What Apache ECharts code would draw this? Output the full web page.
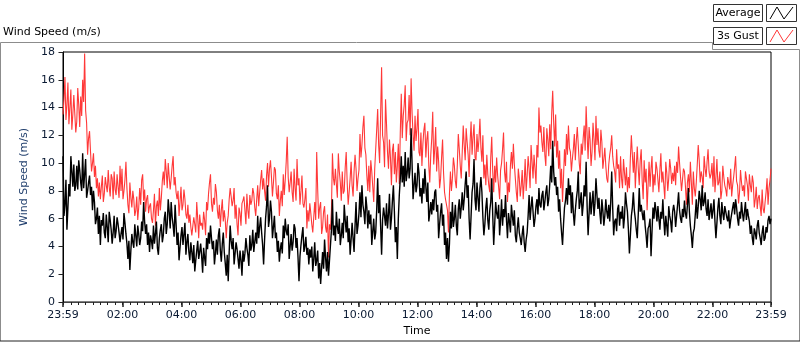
<!DOCTYPE html>
<html>
<head>
<meta charset="utf-8">
<script src="https://cdn.jsdelivr.net/npm/echarts@6/dist/echarts.min.js"></script>
<style>
  html, body { margin: 0; padding: 0; background: #fff; }
  #chart { width: 800px; height: 342px; }
</style>
</head>
<body>
<div id="chart"></div>
<script>
// samples every 2 minutes, from 23:59 (minute -1) to 23:59 (minute 1439)
var startMin = -1;
var stepMin = 2;

// average wind speed (m/s)
var avgSpeed = [
  10.5, 6.2, 7.0, 8.8, 5.2, 6.8, 8.5, 7.6, 10.5, 9.4, 8.3, 9.9, 8.0, 8.4, 9.8, 8.1, 10.2, 9.5, 8.6, 8.0,
  10.7, 8.2, 9.2, 10.3, 7.5, 8.0, 8.6, 9.1, 7.7, 8.3, 6.6, 8.0, 7.2, 5.6, 6.0, 6.8, 4.9, 6.2, 4.1, 5.9,
  5.5, 6.4, 5.0, 4.6, 6.3, 5.4, 4.3, 6.5, 5.9, 5.2, 4.2, 5.0, 6.2, 4.6, 5.1, 6.1, 5.6, 5.0, 4.3, 4.9,
  5.4, 4.5, 6.4, 5.7, 4.9, 4.2, 3.1, 4.4, 2.3, 3.7, 4.9, 4.3, 3.9, 5.6, 4.8, 4.0, 5.5, 4.9, 4.1, 4.6,
  5.8, 5.1, 7.2, 5.8, 4.9, 5.6, 4.1, 5.0, 3.6, 4.8, 4.4, 3.8, 5.5, 4.2, 4.9, 5.8, 3.9, 3.4, 4.6, 5.2,
  5.6, 4.3, 4.8, 6.0,
  6.5, 4.9, 5.6, 7.4, 6.5, 5.3, 7.2, 6.1, 5.5, 4.7, 7.0, 5.6, 4.1, 5.0, 3.0, 3.9, 4.8, 5.4, 4.1, 4.9,
  5.7, 3.4, 4.3, 4.9, 3.6, 3.0, 4.3, 3.6, 2.8, 4.1, 2.2, 3.0, 3.7, 4.4, 3.1, 3.6, 4.2, 3.3, 2.1, 3.9,
  3.2, 2.6, 4.6, 3.8, 5.0, 4.2, 5.5, 4.6, 3.8, 4.4, 2.7, 3.5, 4.5, 3.4, 4.8, 5.3, 3.7, 2.9, 4.2, 5.0,
  3.6, 2.8, 1.9, 3.4, 1.5, 3.6, 5.5, 4.4, 3.8, 4.6, 2.7, 3.5, 4.3, 3.8, 3.1, 2.4, 3.7, 3.0, 1.9, 3.7,
  2.9, 3.5, 4.6, 3.9, 3.4, 2.6, 4.8, 3.7, 4.1, 5.2, 3.6, 4.3, 5.0, 4.2, 6.2, 4.6, 5.4, 6.1, 5.0, 4.1,
  2.7, 4.5, 6.0, 6.9,
  8.4, 5.4, 6.0, 7.3, 6.5, 4.6, 5.4, 6.2, 4.6, 5.0, 3.6, 4.4, 2.9, 3.8, 4.3, 3.5, 5.5, 4.6, 6.0, 5.1,
  4.8, 5.6, 3.1, 4.0, 4.9, 3.7, 4.3, 5.6, 5.3, 3.9, 4.6, 3.2, 1.5, 3.3, 4.1, 4.8, 5.4, 3.6, 4.0, 4.7,
  3.4, 3.9, 2.7, 3.8, 3.2, 4.0, 2.2, 3.1, 4.3, 2.6, 3.0, 3.7, 1.7, 2.8, 1.3, 2.5, 3.6, 2.4, 4.5, 3.2,
  2.2, 3.6, 1.9, 3.0, 4.1, 5.2, 7.4, 4.8, 5.5, 4.4, 6.5, 5.4, 4.9, 6.0, 4.1, 4.8, 5.7, 4.6, 7.0, 5.9,
  5.0, 6.2, 4.3, 5.3, 3.4, 4.5, 5.7, 4.6, 3.6, 5.5, 7.2, 4.9, 5.5, 6.4, 7.9, 6.1, 8.4, 7.0, 6.5, 5.6,
  7.6, 6.8, 5.3, 6.6,
  5.6, 6.3, 4.1, 5.1, 6.0, 4.5, 5.0, 6.6, 8.9, 6.4, 7.7, 5.5, 3.4, 5.9, 6.8, 6.2, 5.5, 7.1, 5.3, 6.3,
  7.8, 5.2, 6.0, 7.3, 8.4, 6.5, 4.3, 5.4, 3.1, 6.0, 7.7, 8.9, 10.5, 8.6, 9.8, 8.3, 10.8, 8.7, 9.3, 10.4,
  8.9, 9.6, 12.5, 9.9, 7.4, 8.4, 9.3, 7.9, 8.4, 10.0, 9.3, 7.6, 8.2, 7.1, 8.9, 7.8, 9.6, 8.3, 7.2, 8.6,
  5.8, 6.4, 7.2, 6.3, 7.4, 6.6, 7.9, 8.1, 6.5, 7.0, 4.6, 5.6, 6.5, 7.1, 5.5, 6.3, 4.1, 5.0, 3.1, 4.6,
  2.9, 4.2, 6.5, 5.3, 7.2, 5.4, 6.0, 7.0, 5.5, 4.8, 6.7, 7.4, 6.0, 6.8, 7.9, 6.6, 7.4, 8.5, 9.4, 7.5,
  8.4, 6.0,
  4.5, 6.2, 7.9, 8.5, 10.3, 7.4, 6.6, 8.6, 7.5, 6.5, 8.2, 9.0, 7.9, 6.1, 4.8, 5.6, 6.8, 7.5, 5.9, 5.2,
  6.6, 7.2, 8.9, 6.3, 4.1, 5.6, 7.2, 6.4, 6.0, 7.0, 4.8, 5.9, 7.4, 5.5, 6.7, 6.1, 7.7, 5.9, 4.6, 6.4,
  5.8, 5.0, 7.0, 6.2, 5.5, 6.6, 4.8, 4.3, 5.3, 6.1, 5.0, 4.6, 4.1, 4.9, 5.5, 4.3, 3.6, 4.5, 5.0, 6.2,
  7.7, 5.9, 6.8, 7.6, 6.5, 5.4, 6.0, 6.9, 7.4, 6.3, 8.2, 7.0, 6.8, 7.7, 8.0, 6.6, 7.2, 7.9, 8.4, 6.9,
  7.4, 8.5, 9.8, 8.6, 11.6, 9.4, 8.4, 9.0, 7.7, 8.3, 6.5, 7.4, 6.0, 5.0, 4.1, 5.6, 6.8, 7.3, 8.2, 7.0,
  8.9, 7.7, 8.4, 6.4,
  7.9, 6.4, 5.5, 6.6, 7.4, 8.0, 9.4, 6.7, 7.2, 7.9, 6.2, 7.0, 8.4, 7.6, 10.1, 6.9, 4.8, 6.4, 7.9, 6.3,
  7.2, 8.0, 6.2, 7.1, 8.9, 7.7, 6.7, 7.5, 6.4, 5.6, 7.4, 6.6, 5.5, 6.2, 7.4, 6.5, 6.0, 7.0, 5.8, 7.2,
  9.4, 6.8, 4.8, 5.8, 6.0, 5.1, 6.7, 7.0, 5.5, 6.5, 6.0, 6.9, 5.3, 6.1, 7.9, 7.1, 6.5, 5.2, 3.5, 4.8,
  6.2, 6.8, 7.9, 6.6, 6.0, 5.2, 4.6, 6.3, 8.2, 6.5, 7.0, 6.4, 5.9, 6.6, 5.5, 4.8, 3.9, 5.3, 5.5, 6.0,
  3.3, 5.1, 6.8, 6.0, 7.2, 6.6, 5.8, 6.9, 6.0, 5.2, 6.5, 6.0, 7.4, 5.9, 4.8, 6.2, 5.5, 4.7, 6.9, 6.2,
  5.8, 5.0, 6.5, 7.0,
  6.5, 5.4, 6.2, 7.0, 7.9, 6.6, 6.0, 5.7, 6.7, 6.1, 7.3, 6.4, 6.0, 7.0, 8.2, 6.5, 5.5, 4.8, 3.9, 5.0,
  5.3, 6.3, 7.4, 6.0, 6.9, 8.0, 7.4, 6.6, 8.4, 6.9, 7.2, 7.9, 6.7, 6.2, 7.4, 5.9, 6.5, 7.1, 6.0, 6.6,
  7.4, 5.8, 4.6, 5.7, 6.8, 7.5, 6.2, 5.6, 7.2, 6.4, 5.9, 6.9, 6.5, 6.1, 5.8, 6.6, 5.3, 5.9, 6.0, 6.8,
  7.2, 6.3, 7.4, 6.8, 6.0, 5.5, 6.5, 6.0, 7.2, 6.4, 5.8, 6.5, 7.2, 5.9, 6.7, 6.2, 5.8, 4.9, 5.5, 4.6,
  4.1, 5.3, 5.0, 4.5, 5.5, 5.9, 5.0, 4.6, 4.1, 5.0, 5.5, 4.4, 4.6, 5.4, 5.0, 5.9, 6.2, 5.6, 6.0
];

// 3 second gust (m/s)
var gustSpeed = [
  13.5, 14.6, 16.2, 13.1, 14.2, 15.8, 12.8, 14.0, 15.3, 12.4, 13.5, 14.9, 15.0, 12.2, 13.0, 15.4, 14.2, 12.6, 14.8, 13.4,
  16.0, 14.4, 17.9, 13.8, 12.9, 10.6, 11.8, 12.3, 10.8, 9.4, 10.0, 10.7, 9.0, 9.8, 8.2, 8.9, 7.6, 8.6, 7.4, 8.3,
  9.1, 7.2, 7.8, 9.0, 8.4, 7.9, 9.5, 8.3, 7.6, 9.2, 8.9, 7.4, 9.4, 8.1, 7.7, 9.2, 8.3, 7.5, 9.8, 8.0,
  9.6, 7.4, 8.0, 8.8, 10.1, 8.2, 7.0, 6.4, 8.6, 7.5, 6.8, 8.0, 7.4, 6.2, 6.6, 7.6, 5.9, 6.8, 8.2, 7.0,
  8.8, 9.2, 7.3, 8.1, 6.5, 7.4, 7.7, 6.4, 6.9, 7.1, 6.0, 5.7, 6.6, 7.8, 5.5, 6.9, 7.3, 6.2, 8.2, 6.6,
  7.5, 8.7, 9.4, 8.4,
  10.3, 9.4, 8.2, 10.0, 9.0, 8.1, 8.9, 9.8, 10.5, 8.4, 9.0, 7.9, 7.4, 8.0, 6.2, 7.2, 8.3, 6.6, 7.0, 8.1,
  7.4, 6.3, 6.0, 7.0, 5.7, 6.3, 5.4, 4.8, 4.9, 6.1, 5.6, 5.0, 7.2, 6.0, 4.6, 6.3, 5.5, 5.7, 5.2, 6.5,
  5.9, 4.8, 7.2, 6.6, 7.8, 8.6, 9.2, 7.1, 6.5, 7.5, 7.0, 8.5, 7.9, 6.6, 6.0, 7.0, 5.4, 6.6, 7.4, 5.8,
  6.6, 5.9, 4.6, 5.7, 6.2, 7.4, 8.2, 7.6, 6.9, 7.3, 8.2, 6.0, 7.0, 5.6, 4.8, 6.8, 6.4, 5.5, 7.1, 7.3,
  7.6, 6.6, 5.6, 7.8, 6.6, 6.0, 7.7, 7.0, 7.3, 8.2, 7.8, 6.8, 6.2, 7.4, 8.4, 6.9, 7.9, 8.8, 9.5, 8.1,
  8.9, 8.0, 7.3, 9.1,
  10.0, 8.3, 9.6, 10.2, 9.0, 7.6, 8.6, 9.7, 9.5, 7.8, 7.4, 8.4, 6.2, 7.3, 8.0, 6.9, 9.2, 7.7, 8.8, 10.1,
  11.9, 9.0, 7.9, 8.6, 9.4, 7.9, 7.2, 9.6, 8.2, 7.3, 10.3, 8.4, 8.9, 7.0, 8.0, 9.1, 7.1, 6.8, 7.4, 8.2,
  5.3, 6.6, 5.8, 7.1, 6.4, 5.6, 5.0, 6.1, 7.2, 5.9, 10.8, 8.1, 6.0, 6.8, 7.2, 4.9, 5.4, 6.5, 6.9, 5.4,
  5.0, 6.3, 3.2, 5.6, 5.2, 6.6, 10.7, 8.9, 8.4, 9.6, 8.5, 7.5, 10.7, 9.4, 8.6, 7.3, 9.4, 7.8, 8.0, 9.7,
  10.8, 8.6, 7.0, 7.9, 8.9, 10.1, 8.4, 7.6, 9.4, 10.6, 9.6, 8.0, 8.9, 9.5, 12.1, 10.4, 11.3, 12.6, 13.4, 11.1,
  10.6, 9.1, 8.0, 9.8,
  7.9, 10.2, 9.4, 8.3, 7.2, 9.6, 11.0, 12.4, 13.9, 11.3, 10.0, 13.5, 16.9, 12.0, 11.5, 9.7, 14.6, 12.8, 10.8, 9.6,
  11.7, 10.4, 8.4, 10.9, 11.4, 9.2, 10.8, 8.6, 9.8, 11.4, 8.5, 12.2, 15.0, 11.8, 13.4, 14.2, 15.6, 11.6, 12.9, 13.1,
  14.9, 12.0, 16.1, 13.6, 12.0, 10.9, 13.4, 11.6, 12.5, 13.9, 10.8, 10.5, 12.2, 9.8, 11.4, 12.4, 12.9, 10.4, 11.7, 12.3,
  9.8, 8.6, 10.6, 11.8, 13.7, 9.9, 11.0, 12.6, 9.4, 11.2, 10.1, 8.2, 8.9, 10.4, 11.7, 9.3, 7.9, 7.4, 7.0, 6.6,
  5.0, 7.8, 9.4, 8.0, 8.9, 10.4, 9.8, 8.7, 8.2, 9.9, 12.1, 11.0, 9.8, 8.9, 10.8, 12.7, 11.3, 10.2, 12.5, 11.5,
  10.6, 9.0,
  11.5, 13.0, 10.6, 11.9, 12.8, 10.4, 10.2, 12.1, 10.8, 11.7, 13.2, 11.1, 10.1, 12.0, 8.9, 9.9, 8.4, 10.6, 9.2, 8.4,
  7.9, 10.4, 11.9, 9.4, 7.9, 9.8, 8.6, 10.4, 9.1, 8.3, 7.4, 9.5, 10.0, 11.0, 12.2, 9.4, 8.6, 10.1, 7.2, 8.6,
  7.9, 9.8, 10.8, 9.6, 11.4, 9.9, 8.9, 7.9, 7.2, 9.6, 8.9, 7.6, 8.4, 9.5, 7.4, 8.6, 10.3, 8.0, 9.1, 10.5,
  9.6, 8.2, 11.3, 10.1, 8.9, 10.6, 9.6, 8.5, 11.3, 10.4, 14.0, 12.2, 12.7, 11.5, 10.8, 12.6, 10.6, 9.8, 12.5, 11.7,
  10.5, 12.8, 11.0, 13.6, 15.2, 12.9, 11.2, 13.5, 10.4, 11.6, 9.6, 10.9, 8.2, 9.6, 7.2, 9.0, 11.0, 9.8, 12.1, 10.6,
  12.7, 11.1, 10.8, 9.4,
  10.3, 11.0, 12.1, 10.2, 11.6, 12.6, 11.3, 10.0, 9.2, 11.4, 10.6, 11.8, 12.7, 10.9, 14.1, 12.0, 10.3, 12.6, 11.7, 9.8,
  10.8, 12.9, 11.7, 10.2, 13.4, 11.3, 12.5, 10.9, 10.4, 12.4, 11.5, 9.6, 10.3, 11.1, 9.8, 8.9, 8.6, 9.9, 10.6, 11.1,
  12.0, 10.5, 9.8, 9.4, 8.6, 11.0, 9.6, 9.9, 8.2, 10.5, 8.9, 8.2, 10.3, 9.3, 8.4, 9.7, 7.9, 9.0, 8.2, 10.4,
  12.0, 10.6, 9.3, 10.8, 8.2, 9.7, 11.2, 9.6, 8.4, 10.2, 11.0, 8.7, 7.4, 10.2, 8.6, 9.6, 6.6, 8.4, 10.1, 8.3,
  9.6, 10.5, 7.9, 9.2, 8.4, 10.1, 9.6, 8.8, 7.9, 9.5, 10.7, 8.6, 9.4, 8.4, 7.4, 10.1, 9.3, 8.0, 8.9, 10.3,
  9.6, 8.5, 9.3, 8.7,
  9.8, 8.4, 10.1, 9.3, 11.2, 10.0, 9.0, 8.0, 7.9, 9.6, 9.4, 8.3, 7.0, 8.6, 9.2, 7.9, 10.1, 8.6, 7.0, 9.4,
  8.2, 7.6, 8.6, 9.9, 11.3, 10.2, 8.6, 9.4, 9.0, 8.2, 10.5, 9.6, 9.0, 10.1, 11.0, 9.4, 8.9, 9.2, 10.0, 8.3,
  10.5, 7.9, 9.0, 10.3, 8.4, 8.6, 9.4, 7.4, 8.0, 9.8, 9.0, 8.4, 8.1, 7.6, 9.0, 8.9, 8.1, 9.6, 7.6, 8.4,
  9.0, 9.7, 10.5, 8.7, 8.4, 7.1, 7.9, 9.5, 8.6, 8.0, 8.4, 7.6, 9.4, 8.9, 8.4, 7.3, 9.2, 8.4, 7.9, 9.1,
  8.6, 6.8, 7.4, 8.3, 6.7, 7.5, 7.7, 6.9, 6.2, 8.1, 6.7, 6.4, 7.2, 7.9, 8.9, 7.0, 8.2, 8.8, 9.6
];

// x axis labels (minutes after midnight)
var hourTicks = [-1, 120, 240, 360, 480, 600, 720, 840, 960, 1080, 1200, 1320, 1439];
var minorTicks = [-1];
for (var t = 15; t < 1439; t += 15) minorTicks.push(t);
minorTicks.push(1439);

function toPairs(arr) {
  return arr.map(function (v, i) { return [startMin + i * stepMin, v]; });
}

function timeLabel(v) {
  if (v <= -1 || v >= 1439) return '23:59';
  var h = Math.floor(v / 60), m = v % 60;
  return (h < 10 ? '0' : '') + h + ':' + (m < 10 ? '0' : '') + m;
}

var font = 'DejaVu Sans';
var chart = echarts.init(document.getElementById('chart'));

var option = {
  backgroundColor: '#fff',
  animation: false,
  title: {
    text: 'Wind Speed (m/s)',
    left: 3,
    top: 27,
    padding: 0,
    textStyle: { fontFamily: font, fontSize: 11, fontWeight: 'normal', color: '#000' }
  },
  grid: {
    left: 63, right: 29, top: 52, bottom: 40,
    show: true, borderColor: '#000', borderWidth: 1
  },
  xAxis: [{
    type: 'value',
    min: -1, max: 1439,
    name: 'Time',
    nameLocation: 'middle',
    nameGap: 24,
    nameTextStyle: { fontFamily: font, fontSize: 11, color: '#000' },
    axisLine: { show: true, lineStyle: { color: '#444', width: 1 } },
    axisTick: { show: true, customValues: minorTicks, length: 3, lineStyle: { color: '#222' } },
    axisLabel: {
      customValues: hourTicks,
      formatter: timeLabel,
      margin: 8,
      fontFamily: font, fontSize: 11, color: '#0a1a33'
    },
    splitLine: { show: false }
  }, {
    // longer ticks at the labelled hours
    type: 'value',
    min: -1, max: 1439,
    position: 'bottom',
    axisLine: { show: false },
    axisTick: { show: true, customValues: hourTicks, length: 5, lineStyle: { color: '#222', width: 1.5 } },
    axisLabel: { show: false },
    splitLine: { show: false }
  }],
  yAxis: {
    type: 'value',
    min: 0, max: 18, interval: 2,
    name: 'Wind Speed (m/s)',
    nameLocation: 'middle',
    nameGap: 31,
    nameTextStyle: { fontFamily: font, fontSize: 11, color: '#22406e' },
    axisLine: { show: true, lineStyle: { color: '#000' } },
    axisTick: { show: true, length: 5, lineStyle: { color: '#222' } },
    axisLabel: { margin: 8, fontFamily: font, fontSize: 11, color: '#0a1a33' },
    splitLine: { show: false }
  },
  series: [{
    name: '3s Gust',
    type: 'line',
    data: toPairs(gustSpeed),
    showSymbol: false,
    lineStyle: { color: '#ff3838', width: 1.1 },
    itemStyle: { color: '#ff3838' },
    z: 2
  }, {
    name: 'Average',
    type: 'line',
    data: toPairs(avgSpeed),
    showSymbol: false,
    lineStyle: { color: '#000', width: 1.4 },
    itemStyle: { color: '#000' },
    z: 3
  }],
  graphic: [
    // outer panel frame
    { type: 'polyline', shape: { points: [[0.5, 341], [0.5, 42.5], [712.5, 42.5], [712.5, 49.5], [799.5, 49.5], [799.5, 341]] },
      style: { stroke: '#8c8c8c', lineWidth: 1, fill: null }, silent: true },
    { type: 'line', shape: { x1: 0, y1: 341, x2: 800, y2: 341 }, style: { stroke: '#222', lineWidth: 1 }, silent: true },
    // legend: Average
    { type: 'rect', shape: { x: 713.5, y: 4.5, width: 49, height: 17 }, style: { fill: '#fff', stroke: '#333', lineWidth: 1 } },
    { type: 'text', x: 738, y: 13, style: { text: 'Average', fontFamily: font, fontSize: 11, fill: '#000', align: 'center', verticalAlign: 'middle' } },
    { type: 'rect', shape: { x: 766.5, y: 4.5, width: 30, height: 17 }, style: { fill: '#fff', stroke: '#333', lineWidth: 1 } },
    { type: 'polyline', shape: { points: [[770, 19], [777, 7], [784, 19], [793, 7]] }, style: { stroke: '#000', lineWidth: 1, fill: null } },
    // legend: 3s Gust
    { type: 'rect', shape: { x: 713.5, y: 27.5, width: 49, height: 17 }, style: { fill: '#fff', stroke: '#333', lineWidth: 1 } },
    { type: 'text', x: 738, y: 36, style: { text: '3s Gust', fontFamily: font, fontSize: 11, fill: '#000', align: 'center', verticalAlign: 'middle' } },
    { type: 'rect', shape: { x: 766.5, y: 27.5, width: 30, height: 17 }, style: { fill: '#fff', stroke: '#333', lineWidth: 1 } },
    { type: 'polyline', shape: { points: [[770, 42], [777, 30], [784, 42], [793, 30]] }, style: { stroke: '#ff3838', lineWidth: 1, fill: null } }
  ]
};

chart.setOption(option);
</script>
</body>
</html>
